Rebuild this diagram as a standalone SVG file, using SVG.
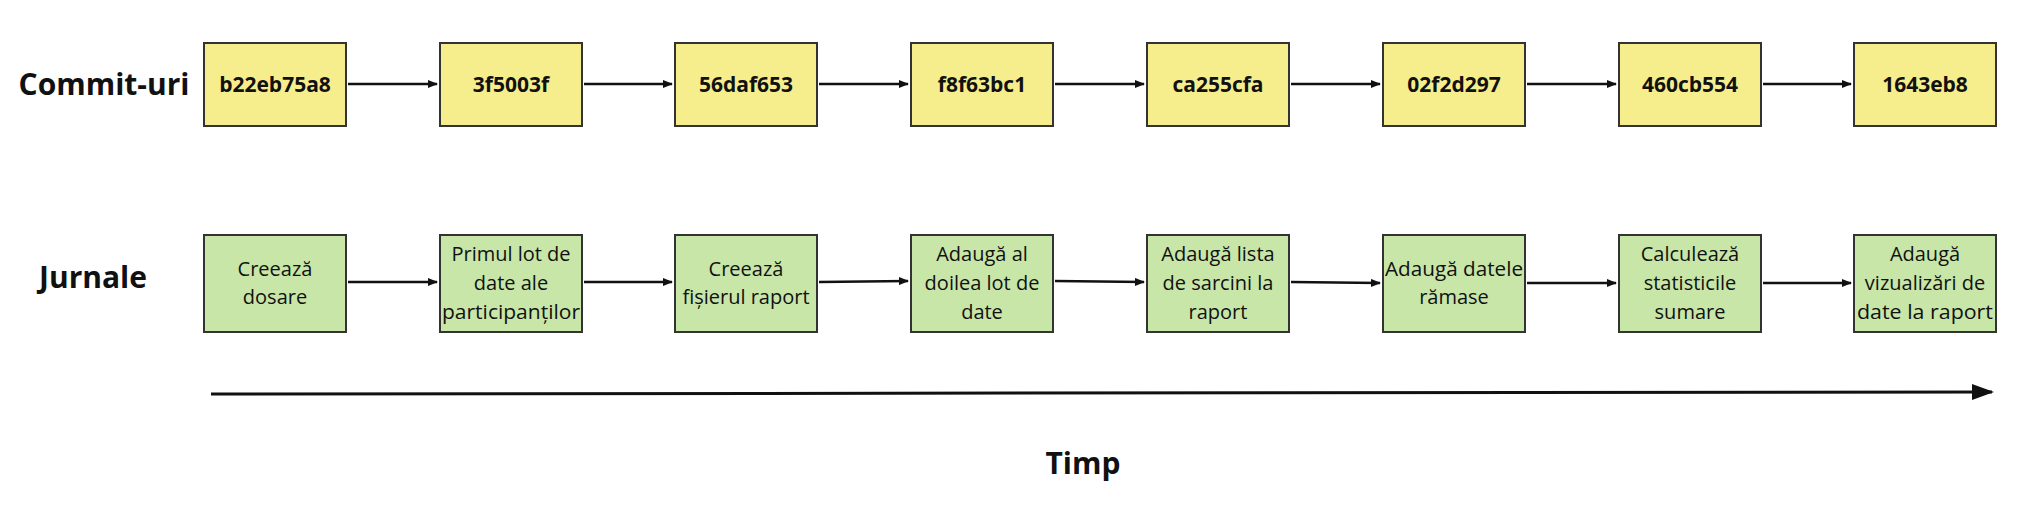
<svg xmlns="http://www.w3.org/2000/svg" width="2033" height="528" viewBox="0 0 2033 528">
<style>
.c rect{fill:#f6ee8c;stroke:#333;stroke-width:2}
.j rect{fill:#c8e6a8;stroke:#333;stroke-width:2}
.c text{font:bold 21px "Open Sans",sans-serif;text-anchor:middle;fill:#111}
.j text{font:20px "Open Sans",sans-serif;text-anchor:middle;fill:#111}
.lbl{font:bold 30px "Open Sans",sans-serif;text-anchor:middle;fill:#111}
.e line{stroke:#111;stroke-width:2.5;marker-end:url(#a)}
</style>
<defs><marker id="a" markerWidth="10" markerHeight="8" refX="9" refY="4" orient="auto" markerUnits="userSpaceOnUse" viewBox="0 0 10 8"><path d="M0,0L10,4L0,8z" fill="#111"/></marker>
<marker id="b" markerWidth="22" markerHeight="16" refX="20" refY="8" orient="auto" markerUnits="userSpaceOnUse" viewBox="0 0 22 16"><path d="M0,0L22,8L0,16z" fill="#111"/></marker></defs>
<rect width="2033" height="528" fill="#fff"/>
<text class="lbl" x="104" y="95">Commit-uri</text>
<text class="lbl" x="93" y="288">Jurnale</text>
<text class="lbl" x="1083" y="474">Timp</text>
<g class="c">
<g id="c1"><rect x="204" y="43" width="142" height="83"/><text x="275" y="92">b22eb75a8</text></g>
<g id="c2"><rect x="440" y="43" width="142" height="83"/><text x="511" y="92">3f5003f</text></g>
<g id="c3"><rect x="675" y="43" width="142" height="83"/><text x="746" y="92">56daf653</text></g>
<g id="c4"><rect x="911" y="43" width="142" height="83"/><text x="982" y="92">f8f63bc1</text></g>
<g id="c5"><rect x="1147" y="43" width="142" height="83"/><text x="1218" y="92">ca255cfa</text></g>
<g id="c6"><rect x="1383" y="43" width="142" height="83"/><text x="1454" y="92">02f2d297</text></g>
<g id="c7"><rect x="1619" y="43" width="142" height="83"/><text x="1690" y="92">460cb554</text></g>
<g id="c8"><rect x="1854" y="43" width="142" height="83"/><text x="1925" y="92">1643eb8</text></g>
</g>
<g class="j">
<g id="j1"><rect x="204" y="235" width="142" height="97"/><text x="275" y="276">Creează</text><text x="275" y="304">dosare</text></g>
<g id="j2"><rect x="440" y="235" width="142" height="97"/><text x="511" y="261">Primul lot de</text><text x="511" y="290">date ale</text><text x="511" y="319" textLength="138" lengthAdjust="spacingAndGlyphs">participanților</text></g>
<g id="j3"><rect x="675" y="235" width="142" height="97"/><text x="746" y="276">Creează</text><text x="746" y="304">fișierul raport</text></g>
<g id="j4"><rect x="911" y="235" width="142" height="97"/><text x="982" y="261">Adaugă al</text><text x="982" y="290">doilea lot de</text><text x="982" y="319">date</text></g>
<g id="j5"><rect x="1147" y="235" width="142" height="97"/><text x="1218" y="261">Adaugă lista</text><text x="1218" y="290">de sarcini la</text><text x="1218" y="319">raport</text></g>
<g id="j6"><rect x="1383" y="235" width="142" height="97"/><text x="1454" y="276" textLength="138" lengthAdjust="spacingAndGlyphs">Adaugă datele</text><text x="1454" y="304">rămase</text></g>
<g id="j7"><rect x="1619" y="235" width="142" height="97"/><text x="1690" y="261">Calculează</text><text x="1690" y="290">statisticile</text><text x="1690" y="319">sumare</text></g>
<g id="j8"><rect x="1854" y="235" width="142" height="97"/><text x="1925" y="261">Adaugă</text><text x="1925" y="290">vizualizări de</text><text x="1925" y="319" textLength="136" lengthAdjust="spacingAndGlyphs">date la raport</text></g>
</g>
<g class="e">
<line x1="348" y1="84" x2="437" y2="84"/><line x1="584" y1="84" x2="672" y2="84"/><line x1="819" y1="84" x2="908" y2="84"/><line x1="1055" y1="84" x2="1144" y2="84"/><line x1="1291" y1="84" x2="1380" y2="84"/><line x1="1527" y1="84" x2="1616" y2="84"/><line x1="1763" y1="84" x2="1851" y2="84"/>
<line x1="348" y1="282" x2="437" y2="282"/><line x1="584" y1="282" x2="672" y2="282"/><line x1="819" y1="282" x2="908" y2="281"/><line x1="1055" y1="281" x2="1144" y2="282"/><line x1="1291" y1="282" x2="1380" y2="283"/><line x1="1527" y1="283" x2="1616" y2="283"/><line x1="1763" y1="283" x2="1851" y2="283"/>
<line x1="211" y1="394" x2="1992" y2="392" style="stroke-width:3;marker-end:url(#b)"/>
</g>
</svg>
